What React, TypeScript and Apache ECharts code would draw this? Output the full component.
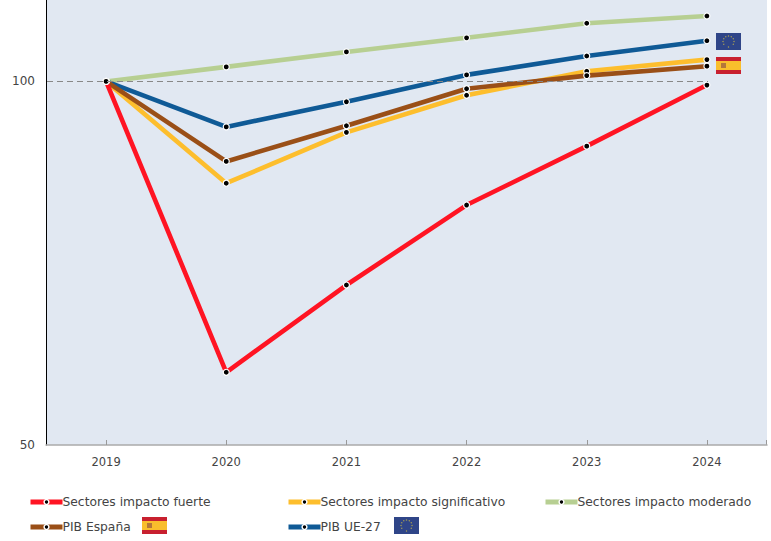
import React, { useEffect, useRef } from "react";
import * as echarts from "echarts";

const years = ["2019", "2020", "2021", "2022", "2023", "2024"];
const fuerte = [100, 60, 72, 83, 91.1, 99.5];
const significativo = [100, 86, 93, 98.1, 101.4, 103];
const moderado = [100, 102, 104.06, 106, 108, 109];
const pibEspana = [100, 89, 93.9, 99, 100.8, 102.1];
const pibUE = [100, 93.75, 97.2, 100.9, 103.5, 105.6];
const yTicks = [50, 100];

const FONT = "'DejaVu Sans', sans-serif";

function esFlag(x: number, y: number) {
  return {
    type: "group", x, y, z: 20,
    children: [
      { type: "rect", shape: { x: 0, y: 0, width: 25, height: 17 }, style: { fill: "#C8202F" } },
      { type: "rect", shape: { x: 0, y: 4, width: 25, height: 9 }, style: { fill: "#F9BE2C" } },
      { type: "rect", shape: { x: 5, y: 6, width: 5, height: 5 }, style: { fill: "#B5763A" } },
    ],
  };
}

function euFlag(x: number, y: number) {
  const stars = Array.from({ length: 12 }, (_, i) => {
    const a = (i / 12) * Math.PI * 2;
    return {
      type: "circle",
      shape: { cx: 12.5 + Math.cos(a) * 5.5, cy: 8.5 + Math.sin(a) * 5.5, r: 0.7 },
      style: { fill: "#A89F55" },
    };
  });
  return {
    type: "group", x, y, z: 20,
    children: [{ type: "rect", shape: { x: 0, y: 0, width: 25, height: 17 }, style: { fill: "#2F4588" } }, ...stars],
  };
}

function lineSeries(name: string, data: number[], color: string, extra: object = {}) {
  return {
    name, type: "line", data,
    lineStyle: { color, width: 4.6, cap: "butt" },
    itemStyle: { color: "#000", borderColor: "#fff", borderWidth: 1.2 },
    symbol: "circle", symbolSize: 6, showSymbol: true,
    ...extra,
  };
}

function legend(name: string, left: number, top: number) {
  return {
    data: [{ name, itemStyle: { color: "#000", borderColor: "#fff", borderWidth: 1.5 } }],
    left, top, itemWidth: 32, itemHeight: 6,
    selectedMode: false, padding: 0,
    lineStyle: { width: 5 },
    textStyle: { fontFamily: FONT, fontSize: 12.3, color: "#444", padding: [0, 0, 0, -5] },
  };
}

export default function App() {
  const ref = useRef<HTMLDivElement>(null);
  useEffect(() => {
    const chart = echarts.init(ref.current!, undefined, { renderer: "svg" });
    chart.setOption({
      animation: false,
      backgroundColor: "#fff",
      grid: { left: 46, right: 4, top: 0, bottom: 96, show: true, backgroundColor: "#E1E8F2", borderWidth: 0 },
      xAxis: {
        type: "category", data: years,
        axisLine: { lineStyle: { color: "#aaa", width: 1.5 } },
        axisTick: { show: true, alignWithLabel: true, length: 5, inside: true, lineStyle: { color: "#999" } },
        axisLabel: { fontFamily: FONT, fontSize: 11.5, color: "#444", margin: 11 },
        splitLine: { show: false },
      },
      yAxis: {
        type: "value", min: 50, max: 111.2,
        axisLine: { show: true, lineStyle: { color: "#000", width: 1 } },
        axisTick: { show: false },
        splitLine: { show: false },
        axisLabel: { fontFamily: FONT, fontSize: 12, color: "#444", margin: 11, customValues: yTicks },
      },
      legend: [
        legend("Sectores impacto fuerte", 28, 496),
        legend("Sectores impacto significativo", 286, 496),
        legend("Sectores impacto moderado", 543, 496),
        legend("PIB España", 28, 521),
        legend("PIB UE-27", 286, 521),
      ],
      series: [
        lineSeries("Sectores impacto moderado", moderado, "#B7CF92", {
          markLine: {
            silent: true, symbol: "none", label: { show: false },
            lineStyle: { color: "#888", type: [6, 4], width: 1 },
            data: [[{ yAxis: 100, x: 47 }, { yAxis: 100, x: 708 }]],
          },
        }),
        lineSeries("PIB UE-27", pibUE, "#0F5A96"),
        lineSeries("Sectores impacto significativo", significativo, "#FDBE2D"),
        lineSeries("PIB España", pibEspana, "#9A4F17"),
        lineSeries("Sectores impacto fuerte", fuerte, "#FF1423"),
      ],
      graphic: [
        euFlag(716, 33), esFlag(716, 57), esFlag(142, 517), euFlag(394, 517),
        { type: "line", shape: { x1: 766.5, y1: 440, x2: 766.5, y2: 445 }, style: { stroke: "#999", lineWidth: 1 } },
      ],
    });
    return () => chart.dispose();
  }, []);
  return <div ref={ref} style={{ position: "absolute", left: 0, top: 0, width: 771, height: 541 }} />;
}
